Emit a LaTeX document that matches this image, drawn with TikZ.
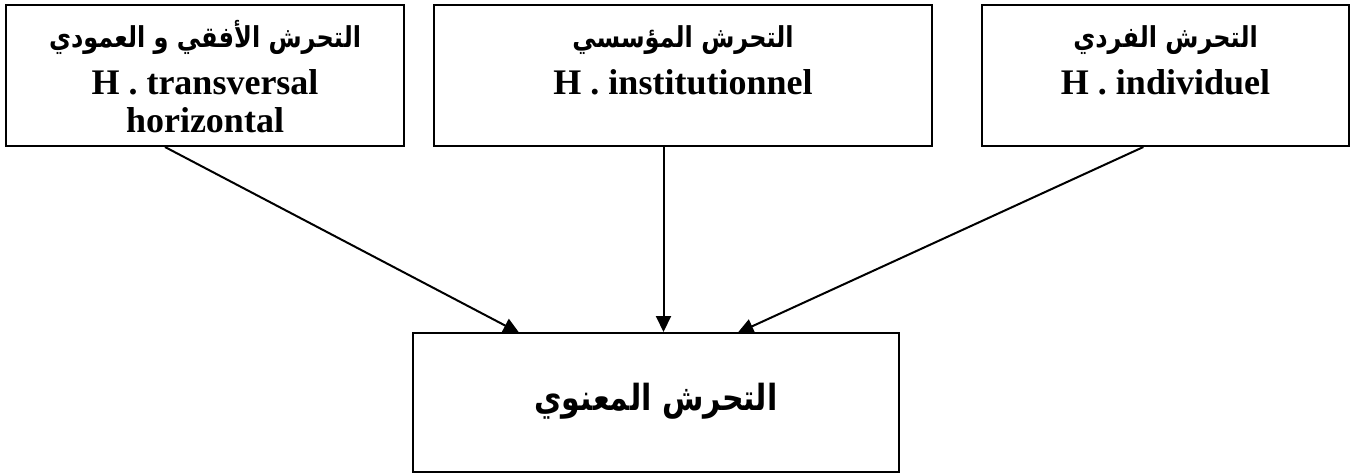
\documentclass[tikz,border=0pt]{standalone}
\usepackage{fontspec}
\setmainfont{Liberation Serif}
\newfontfamily\arabicfont[Script=Arabic]{DejaVu Sans}
\TeXXeTstate=1
\usetikzlibrary{arrows.meta,calc,backgrounds}

\newcommand{\artext}[1]{\scalebox{1}[1.2]{\beginR #1\endR}}

\begin{document}
\begin{tikzpicture}[x=1pt,y=-1pt,
  box/.style={draw,line width=2pt,fill=white,rectangle,inner sep=0pt},
  link/.style={line width=2pt,-{Triangle[length=16pt,width=15pt]}},
  ar/.style={font=\arabicfont\bfseries\fontsize{24}{28}\selectfont,inner sep=0pt,anchor=base},
  arbig/.style={font=\arabicfont\bfseries\fontsize{30}{34}\selectfont,inner sep=0pt,anchor=base},
  la/.style={font=\bfseries\fontsize{36}{40}\selectfont,inner sep=0pt,anchor=base}]
\useasboundingbox (0,0) rectangle (1354,474);

% boxes
\node[box,minimum width=398pt,minimum height=141pt] (b1) at (205,75.5) {};
\node[box,minimum width=498pt,minimum height=141pt] (b2) at (683,75.5) {};
\node[box,minimum width=367pt,minimum height=141pt] (b3) at (1165.5,75.5) {};
\node[box,minimum width=486pt,minimum height=139pt] (b4) at (656,402.5) {};

% labels
\node[ar] (t1a) at ([yshift=-43pt]b1.north) {\artext{التحرش الأفقي و العمودي}};
\node[la] (t1b) at ([yshift=-90pt]b1.north) {H . transversal};
\node[la] (t1c) at ([yshift=-128pt]b1.north) {horizontal};

\node[ar] (t2a) at ([yshift=-43pt]b2.north) {\artext{التحرش المؤسسي}};
\node[la] (t2b) at ([yshift=-90pt]b2.north) {H . institutionnel};

\node[ar] (t3a) at ([yshift=-43pt]b3.north) {\artext{التحرش الفردي}};
\node[la] (t3b) at ([yshift=-90pt]b3.north) {H . individuel};

\node[arbig] (t4) at ([yshift=-78pt]b4.north) {\artext{التحرش المعنوي}};

% connectors, drawn behind the boxes
\coordinate (s1) at ($(b1.south west)!0.4!(b1.south east)$);
\coordinate (s2) at ($(b2.south west)!0.461!(b2.south east)$);
\coordinate (s3) at ($(b3.south west)!0.44!(b3.south east)$);
\coordinate (e1) at ($(b4.north west)!0.22!(b4.north east)+(0,1)$);
\coordinate (e3) at ($(b4.north west)!0.667!(b4.north east)+(0,1)$);
\begin{scope}[on background layer]
\draw[link] (s1) -- (e1);
\draw[link] (s2) -- (s2 |- b4.north);
\draw[link] (s3) -- (e3);
\end{scope}
\end{tikzpicture}
\end{document}
